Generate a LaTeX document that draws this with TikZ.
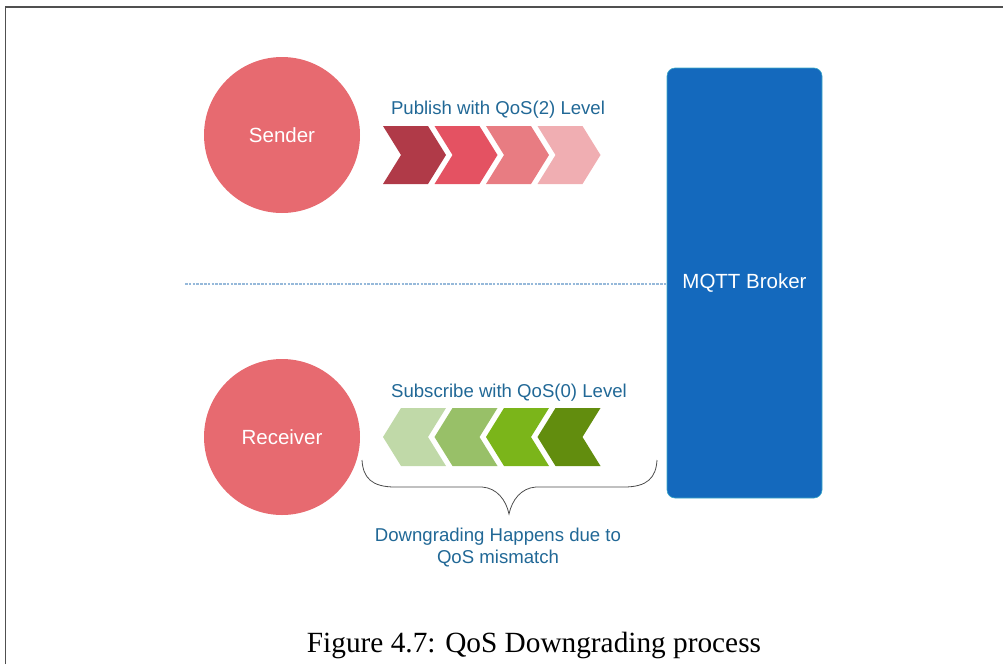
\documentclass[tikz,border=0pt]{standalone}
\usepackage{fontspec}
\setmainfont{Liberation Serif}
\setsansfont{Liberation Sans}
\definecolor{circ}{RGB}{231,106,112}
\definecolor{brokerblue}{RGB}{20,105,189}
\definecolor{brokeredge}{RGB}{60,170,200}
\definecolor{lbl}{RGB}{33,104,150}
\definecolor{dotc}{RGB}{150,185,218}
\definecolor{frame}{RGB}{80,80,80}
\definecolor{ra}{RGB}{176,58,72}
\definecolor{rb}{RGB}{228,82,98}
\definecolor{rc}{RGB}{232,124,130}
\definecolor{rd}{RGB}{240,174,178}
\definecolor{ga}{RGB}{192,217,168}
\definecolor{gb}{RGB}{152,192,104}
\definecolor{gc}{RGB}{123,181,26}
\definecolor{gd}{RGB}{98,141,14}
\begin{document}
\begin{tikzpicture}[x=1pt,y=-1pt,
  actor/.style={circle,fill=circ,minimum size=156pt,inner sep=0pt,text=white,font=\sffamily\fontsize{20.5}{24}\selectfont},
  brokerbox/.style={rounded corners=8pt,fill=brokerblue,draw=brokeredge,line width=0.6pt,minimum width=155pt,minimum height=430pt,text=white,font=\sffamily\fontsize{20.5}{24}\selectfont},
  lbltext/.style={text=lbl,font=\sffamily\fontsize{18.6}{22}\selectfont,inner sep=0pt},
  captext/.style={font=\rmfamily\fontsize{29.3}{34}\selectfont,inner sep=0pt,anchor=base},
  divider/.style={dotc,line width=1.5pt,dash pattern=on 2.6pt off 1.2pt},
  bracepath/.style={draw=black!70,line width=0.8pt},
  chevr/.pic={\fill[pic actions] (0,0) -- (45,0) -- (63,29) -- (45,58) -- (0,58) -- (18,29) -- cycle;},
  chevl/.pic={\fill[pic actions] (0,29) -- (18,0) -- (63,0) -- (45,29) -- (63,58) -- (18,58) -- cycle;}
]
\useasboundingbox (0,0) rectangle (1003,664);
% frame
\draw[frame,line width=1.6pt] (5.5,664) -- (5.5,6.8) -- (1003,6.8);

% broker
\node[brokerbox] (broker) at (744.5,283) {MQTT Broker};

% actors
\node[actor] (sender) at (282,135) {Sender};
\node[actor] (receiver) at (282,437) {Receiver};

% divider
\coordinate (dl) at (185,284);
\draw[divider] (dl) -- (broker.west |- dl);

% publish label and chevrons
\node[lbltext] (pub) at (498,110) {Publish with QoS(2) Level};
\pic[fill=ra] at (383,126) {chevr};
\pic[fill=rb] at (434.5,126) {chevr};
\pic[fill=rc] at (486,126) {chevr};
\pic[fill=rd] at (537.5,126) {chevr};

% subscribe label and chevrons
\node[lbltext] (sub) at (509,393) {Subscribe with QoS(0) Level};
\pic[fill=ga] at (383,408) {chevl};
\pic[fill=gb] at (434.5,408) {chevl};
\pic[fill=gc] at (486,408) {chevl};
\pic[fill=gd] at (537.5,408) {chevl};

% brace
\coordinate (bl) at (362,460);
\coordinate (br) at (657,460);
\coordinate (bt) at (509,514);
\draw[bracepath] (bl) .. controls (363,478) and (372,487) .. (395,487)
  -- (482,487) .. controls (497,488) and (506,500) .. (bt)
  .. controls (512,500) and (521,488) .. (536,487)
  -- (624,487) .. controls (647,487) and (656,478) .. (br);

% downgrade label
\node[lbltext,align=center] (down) at (498,548) {Downgrading Happens due to\\QoS mismatch};

% caption
\node[captext] (cap) at (534,652) {Figure 4.7: QoS Downgrading process};
\end{tikzpicture}
\end{document}
